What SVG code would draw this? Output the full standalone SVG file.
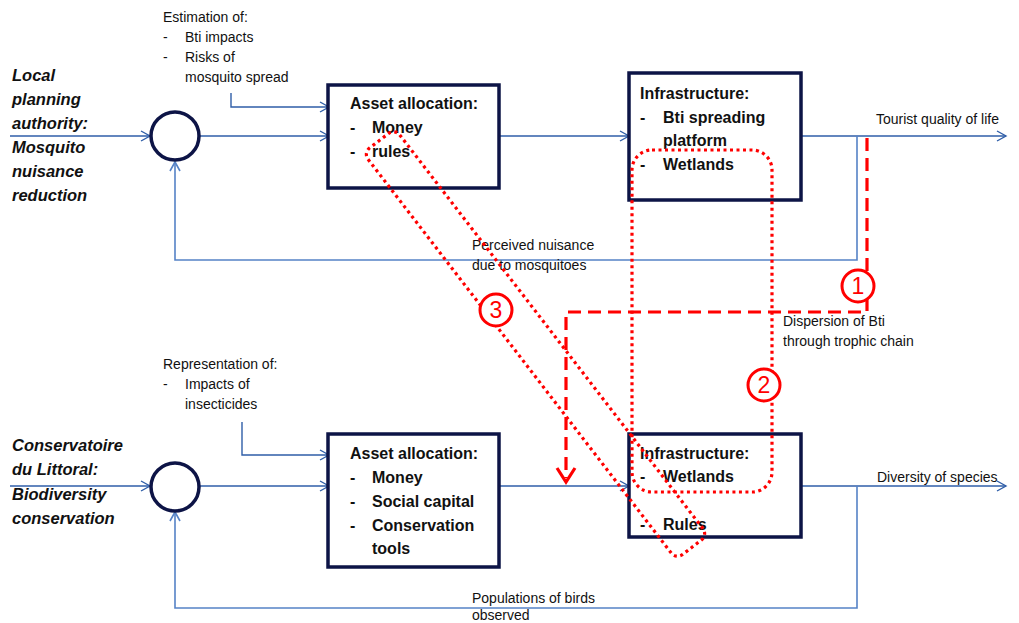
<svg xmlns="http://www.w3.org/2000/svg" width="1019" height="623" viewBox="0 0 1019 623">
<defs>
<style>
.bx{fill:#fff;stroke:#0d1446;stroke-width:3.5}
.cir{fill:#fff;stroke:#0d1446;stroke-width:3.5}
.ln{fill:none;stroke:#2f5ea8;stroke-width:1.4}
.fb{fill:none;stroke:#5582c6;stroke-width:1.6}
.bt{font-family:"Liberation Sans",Arial,sans-serif;font-weight:bold;font-size:16px;fill:#111}
.lb{font-family:"Liberation Sans",Arial,sans-serif;font-weight:bold;font-style:italic;font-size:16.5px;fill:#111}
.st{font-family:"Liberation Sans",Arial,sans-serif;font-size:14px;fill:#111}
.dot{fill:none;stroke:#ff0000;stroke-width:3.2;stroke-dasharray:3 3.5}
.dash{fill:none;stroke:#ff0000;stroke-width:3.2;stroke-dasharray:13 7}
.num{fill:#fff;stroke:#ff0000;stroke-width:3}
.nt{font-family:"Liberation Sans",Arial,sans-serif;font-size:23px;fill:#ff0000;text-anchor:middle}
</style>
<marker id="ar" markerUnits="userSpaceOnUse" markerWidth="12" markerHeight="12" refX="10" refY="6" orient="auto">
<path d="M1,1 L10,6 L1,11" fill="none" stroke="#2f5ea8" stroke-width="1.4"/>
</marker>
<marker id="arf" markerUnits="userSpaceOnUse" markerWidth="12" markerHeight="12" refX="10" refY="6" orient="auto">
<path d="M1,1 L10,6 L1,11" fill="none" stroke="#5582c6" stroke-width="1.6"/>
</marker>
</defs>
<rect width="1019" height="623" fill="#fff"/>

<g id="connectors">
<path class="ln" d="M10,136 H150" marker-end="url(#ar)"/>
<path class="ln" d="M199,136 H329" marker-end="url(#ar)"/>
<path class="ln" d="M231,93 V107 H329" marker-end="url(#ar)"/>
<path class="ln" d="M499,136 H629" marker-end="url(#ar)"/>
<path class="ln" d="M801,136 H1006" marker-end="url(#ar)"/>
<path class="fb" d="M857,136 V260 H175 V162" marker-end="url(#arf)"/>
<path class="ln" d="M10,486 H150" marker-end="url(#ar)"/>
<path class="ln" d="M199,486 H329" marker-end="url(#ar)"/>
<path class="ln" d="M242,422 V455 H329" marker-end="url(#ar)"/>
<path class="ln" d="M499,486 H629" marker-end="url(#ar)"/>
<path class="ln" d="M801,486 H1006" marker-end="url(#ar)"/>
<path class="fb" d="M857,486 V608 H175 V512" marker-end="url(#arf)"/>
</g>

<g id="label-top" class="lb">
<text x="12" y="81">Local</text>
<text x="12" y="105">planning</text>
<text x="12" y="129">authority:</text>
<text x="12" y="153">Mosquito</text>
<text x="12" y="177">nuisance</text>
<text x="12" y="201">reduction</text>
</g>
<g id="label-bottom" class="lb">
<text x="12" y="451">Conservatoire</text>
<text x="12" y="475">du Littoral:</text>
<text x="12" y="500">Biodiversity</text>
<text x="12" y="524">conservation</text>
</g>

<g id="comparator-top"><circle class="cir" cx="175" cy="136" r="24"/></g>
<g id="comparator-bottom"><circle class="cir" cx="175" cy="487" r="24"/></g>

<g id="estimation" class="st">
<text x="163" y="22">Estimation of:</text>
<text x="163" y="42">-</text><text x="185" y="42">Bti impacts</text>
<text x="163" y="62">-</text><text x="185" y="62">Risks of</text>
<text x="185" y="82">mosquito spread</text>
</g>
<g id="representation" class="st">
<text x="163" y="369">Representation of:</text>
<text x="163" y="389">-</text><text x="185" y="389">Impacts of</text>
<text x="185" y="409">insecticides</text>
</g>

<g id="asset-top">
<rect class="bx" x="328" y="85" width="171" height="103"/>
<g class="bt">
<text x="350" y="109">Asset allocation:</text>
<text x="350" y="133">-</text><text x="372" y="133">Money</text>
<text x="350" y="157">-</text><text x="372" y="157">rules</text>
</g>
</g>
<g id="infra-top">
<rect class="bx" x="629" y="73" width="172" height="127"/>
<g class="bt">
<text x="640" y="99">Infrastructure:</text>
<text x="640" y="123">-</text><text x="663" y="123">Bti spreading</text>
<text x="663" y="146">platform</text>
<text x="640" y="170">-</text><text x="663" y="170">Wetlands</text>
</g>
</g>
<g id="asset-bottom">
<rect class="bx" x="328" y="434" width="171" height="133"/>
<g class="bt">
<text x="350" y="459">Asset allocation:</text>
<text x="350" y="483">-</text><text x="372" y="483">Money</text>
<text x="350" y="507">-</text><text x="372" y="507">Social capital</text>
<text x="350" y="531">-</text><text x="372" y="531">Conservation</text>
<text x="372" y="554">tools</text>
</g>
</g>
<g id="infra-bottom">
<rect class="bx" x="629" y="434" width="172" height="103"/>
<g class="bt">
<text x="640" y="459">Infrastructure:</text>
<text x="640" y="482">-</text><text x="663" y="482">Wetlands</text>
<text x="640" y="530">-</text><text x="663" y="530">Rules</text>
</g>
</g>

<g id="output-labels" class="st">
<text x="876" y="124">Tourist quality of life</text>
<text x="472" y="250">Perceived nuisance</text>
<text x="472" y="270">due to mosquitoes</text>
<text x="783" y="326">Dispersion of Bti</text>
<text x="783" y="346">through trophic chain</text>
<text x="877" y="482">Diversity of species</text>
<text x="472" y="603">Populations of birds</text>
<text x="472" y="620">observed</text>
</g>

<g id="interaction-1">
<path class="dash" d="M867,138 V312 H566 V478"/>
<path d="M557,468 L566,482 L575,468" fill="none" stroke="#ff0000" stroke-width="3.2"/>
<circle class="num" cx="858" cy="286" r="16"/>
<text class="nt" x="858" y="294">1</text>
</g>
<g id="interaction-2">
<rect class="dot" x="632" y="150" width="140" height="342" rx="20"/>
<circle class="num" cx="764" cy="385" r="16"/>
<text class="nt" x="764" y="393">2</text>
</g>
<g id="interaction-3">
<rect class="dot" x="-256.5" y="-20" width="513" height="40" rx="8" transform="translate(535.5,344) rotate(52.4)"/>
<circle class="num" cx="496" cy="310" r="16"/>
<text class="nt" x="496" y="318">3</text>
</g>
</svg>
